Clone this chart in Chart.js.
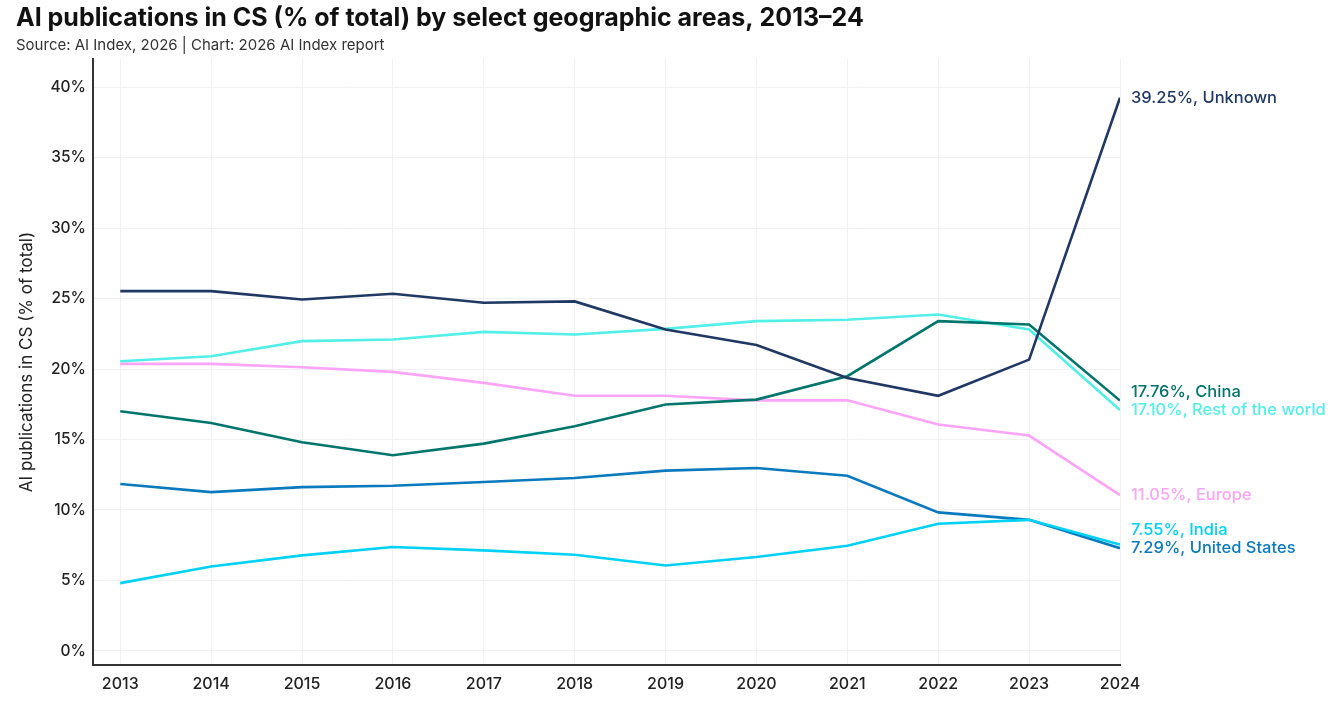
<!DOCTYPE html>
<html>
<head>
<meta charset="utf-8">
<script src="https://cdn.jsdelivr.net/npm/chart.js@4.4.1/dist/chart.umd.min.js"></script>
<style>
html,body{margin:0;padding:0;background:#fff;}
#wrap{width:1344px;height:708px;position:relative;}
</style>
</head>
<body>
<div id="wrap"><canvas id="c" width="1344" height="708"></canvas></div>
<script>
const years = [2013, 2014, 2015, 2016, 2017, 2018, 2019, 2020, 2021, 2022, 2023, 2024];
const yTicks = [0, 5, 10, 15, 20, 25, 30, 35, 40];

const unknown = [25.53, 25.53, 24.94, 25.34, 24.70, 24.80, 22.80, 21.70, 19.37, 18.10, 20.67, 39.25];
const china   = [17.00, 16.17, 14.80, 13.88, 14.71, 15.94, 17.48, 17.83, 19.49, 23.40, 23.16, 17.76];
const restOfWorld = [20.55, 20.91, 21.98, 22.10, 22.64, 22.45, 22.85, 23.40, 23.50, 23.87, 22.80, 17.10];
const europe  = [20.37, 20.37, 20.13, 19.80, 19.02, 18.10, 18.10, 17.78, 17.78, 16.06, 15.28, 11.05];
const india   = [4.81, 5.99, 6.78, 7.37, 7.13, 6.82, 6.06, 6.66, 7.46, 9.02, 9.30, 7.55];
const unitedStates = [11.84, 11.27, 11.62, 11.72, 11.98, 12.27, 12.79, 12.98, 12.43, 9.83, 9.30, 7.29];

const seriesNames = ['Unknown', 'China', 'Rest of the world', 'Europe', 'India', 'United States'];
const seriesValues = [unknown, china, restOfWorld, europe, india, unitedStates];
const seriesColors = ['#1f3864', '#00756c', '#52efe8', '#fca5f8', '#00d1f7', '#0a7abf'];

const FONT = 'Inter, "Open Sans", "DejaVu Sans", sans-serif';

const datasets = seriesNames.map((name, i) => ({
  label: name,
  data: years.map((y, j) => ({x: y, y: seriesValues[i][j]})),
  borderColor: seriesColors[i],
  backgroundColor: seriesColors[i],
  borderWidth: 2.6,
  pointRadius: 0,
  tension: 0,
  fill: false
}));

const endLabels = {
  id: 'endLabels',
  afterDatasetsDraw(chart) {
    const ctx = chart.ctx;
    const xs = chart.scales.x, ys = chart.scales.y;
    const items = chart.data.datasets.map((ds, i) => {
      const last = ds.data[ds.data.length - 1];
      return {text: last.y.toFixed(2) + '%, ' + ds.label, y: ys.getPixelForValue(last.y), x: xs.getPixelForValue(last.x), color: ds.borderColor};
    });
    items.sort((a, b) => a.y - b.y);
    const gap = 18;
    for (let i = items.length - 2; i >= 0; i--) {
      if (items[i + 1].y - items[i].y < gap) items[i].y = items[i + 1].y - gap;
    }
    ctx.save();
    ctx.font = '500 16.5px ' + FONT;
    ctx.textAlign = 'left';
    ctx.textBaseline = 'middle';
    items.forEach(it => {
      ctx.fillStyle = it.color;
      ctx.fillText(it.text, it.x + 11, it.y);
    });
    ctx.restore();
  }
};

new Chart(document.getElementById('c'), {
  type: 'line',
  data: {datasets},
  options: {
    responsive: false,
    animation: false,
    layout: {padding: {left: 16, right: 224, top: 0, bottom: 0}},
    plugins: {
      legend: {display: false},
      tooltip: {enabled: false},
      title: {
        display: true,
        text: 'AI publications in CS (% of total) by select geographic areas, 2013–24',
        align: 'start',
        color: '#111',
        font: {family: FONT, size: 25, weight: 'bold'},
        padding: {top: 3, bottom: 2}
      },
      subtitle: {
        display: true,
        text: 'Source: AI Index, 2026 | Chart: 2026 AI Index report',
        align: 'start',
        color: '#333',
        font: {family: FONT, size: 15},
        padding: {top: 1, bottom: 5}
      }
    },
    scales: {
      x: {
        type: 'linear',
        min: 2012.7,
        max: 2024,
        afterBuildTicks(scale) { scale.ticks = years.map(v => ({value: v})); },
        afterFit(scale) { scale.height = 43; },
        ticks: {
          color: '#222',
          font: {family: FONT, size: 16, weight: '500'},
          padding: 10,
          maxRotation: 0,
          autoSkip: false,
          callback: v => String(v)
        },
        grid: {color: '#f1f1f1', lineWidth: 1, drawTicks: false},
        border: {display: true, color: '#333', width: 2}
      },
      y: {
        min: -1,
        max: 42,
        afterBuildTicks(scale) { scale.ticks = yTicks.map(v => ({value: v})); },
        afterFit(scale) { scale.width = 77; },
        ticks: {
          color: '#222',
          font: {family: FONT, size: 15.5, weight: '500'},
          padding: 7,
          callback: v => v + '%'
        },
        grid: {color: '#f1f1f1', lineWidth: 1, drawTicks: false},
        border: {display: true, color: '#333', width: 2},
        title: {
          display: true,
          text: 'AI publications in CS (% of total)',
          color: '#222',
          font: {family: FONT, size: 17},
          padding: {top: 1, bottom: 0}
        }
      }
    }
  },
  plugins: [endLabels]
});
</script>
</body>
</html>
